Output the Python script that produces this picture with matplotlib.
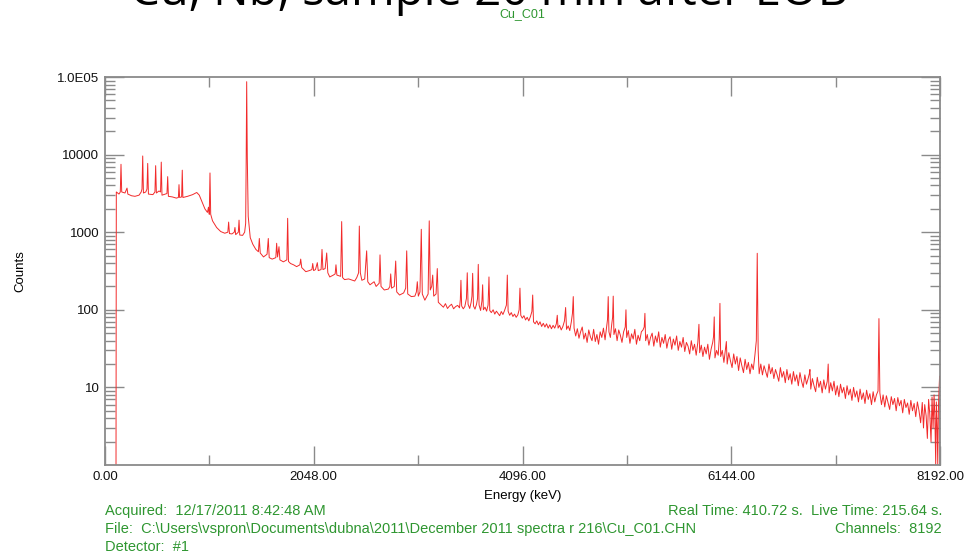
import numpy as np
import matplotlib
matplotlib.use("Agg")
import matplotlib.pyplot as plt
from matplotlib.ticker import FixedLocator, FixedFormatter, NullFormatter

# spectrum: energy (keV) and counts
# low part: flat shelf, the 1390 keV line
e_low = [108, 111, 137, 150, 157, 164, 196, 208, 216, 224, 260, 294, 334, 355, 363, 370, 377,
         400, 412, 419, 426, 470, 490, 497, 504, 530, 545, 552, 559, 590, 608, 615, 622, 660,
         700, 720, 726, 732, 752, 758, 764, 810, 860, 900, 925, 950, 980, 1005, 1015, 1023,
         1030, 1037, 1055, 1095, 1135, 1175, 1205, 1213, 1221, 1245, 1268, 1275, 1282, 1308,
         1315, 1322, 1350, 1370, 1380, 1385, 1390, 1396, 1405, 1425, 1450]
c_low = [1, 3300, 3100, 3300, 7500, 3300, 3200, 3500, 3700, 3100, 2950, 2900, 3000, 3300, 3600,
         9600, 3200, 3300, 3600, 7700, 3100, 3050, 3300, 7200, 3200, 3400, 3300, 8000, 3000,
         3100, 3150, 5200, 2900, 2850, 2750, 2800, 4100, 2800, 2850, 6300, 2800, 2900, 3050,
         3250, 3000, 2500, 2000, 1800, 2100, 1700, 5800, 1700, 1400, 1150, 1020, 970, 1000,
         1350, 960, 950, 1000, 1150, 930, 1000, 1430, 920, 910, 1000, 1300, 8000, 87000, 9000,
         1600, 850, 700]

# middle part: many lines on a falling continuum
e_mid = [1480, 1505, 1514, 1523, 1555, 1590, 1602, 1611, 1640, 1676, 1684, 1693, 1707, 1716,
         1750, 1784, 1792, 1800, 1820, 1850, 1880, 1912, 1920, 1930, 1970, 2005, 2030, 2038,
         2047, 2065, 2083, 2092, 2120, 2129, 2138, 2160, 2175, 2186, 2205, 2240, 2258, 2266,
         2275, 2312, 2322, 2331, 2350, 2390, 2430, 2450, 2470, 2488, 2495, 2505, 2520, 2548,
         2567, 2578, 2600, 2620, 2640, 2660, 2690, 2698, 2708, 2740, 2780, 2795, 2803, 2812,
         2838, 2852, 2862, 2890, 2930, 2950, 2960, 2970, 3005, 3040, 3055, 3064, 3074, 3090,
         3103, 3113, 3138, 3170, 3181, 3191, 3205, 3215, 3225, 3248, 3260, 3270, 3290]
c_mid = [600, 560, 830, 540, 480, 520, 830, 470, 450, 470, 720, 480, 650, 440, 415, 440, 1510,
         420, 395, 380, 360, 380, 450, 350, 310, 320, 330, 395, 320, 330, 405, 320, 330, 600,
         330, 340, 540, 300, 265, 280, 290, 380, 280, 270, 1370, 260, 245, 250, 240, 235, 260,
         300, 1200, 300, 240, 250, 575, 230, 210, 220, 230, 200, 220, 510, 200, 180, 185, 200,
         290, 190, 200, 425, 170, 155, 165, 190, 575, 160, 148, 150, 170, 230, 150, 170, 1090,
         160, 133, 160, 1400, 180, 200, 280, 150, 160, 340, 125, 118]

# noisy tail, (energy, counts) pairs
tail_a = [(3300, 115), (3320, 108), (3340, 120), (3360, 104), (3380, 112), (3400, 118),
          (3420, 103), (3440, 110), (3460, 114), (3478, 106), (3486, 135), (3492, 240),
          (3499, 112), (3515, 103), (3530, 110), (3546, 140), (3554, 300), (3562, 118),
          (3578, 104), (3592, 125), (3600, 150), (3607, 295), (3615, 112), (3630, 102),
          (3645, 118), (3655, 140), (3662, 385), (3670, 115), (3685, 98), (3698, 130),
          (3705, 210), (3712, 100), (3728, 108), (3744, 96), (3758, 115), (3767, 265),
          (3775, 98), (3790, 92), (3808, 100), (3824, 88), (3840, 96), (3856, 90), (3872, 84),
          (3888, 95), (3904, 87), (3920, 98), (3938, 115), (3947, 280), (3955, 96), (3970, 85),
          (3986, 92), (4002, 82), (4018, 88), (4034, 80), (4050, 86), (4063, 100), (4071, 190),
          (4079, 85), (4094, 78), (4110, 84), (4126, 74), (4142, 80), (4158, 72), (4174, 82),
          (4188, 95), (4196, 155), (4204, 70), (4220, 66), (4236, 72), (4252, 64), (4268, 70),
          (4284, 61), (4300, 67), (4316, 60), (4332, 66), (4348, 58), (4364, 64), (4380, 57),
          (4396, 63), (4412, 58), (4428, 66), (4437, 85), (4445, 58), (4460, 63), (4476, 55),
          (4492, 61), (4508, 72), (4519, 107), (4528, 56), (4544, 62), (4560, 54), (4575, 70),
          (4586, 90), (4594, 148), (4602, 58), (4618, 46), (4634, 57), (4650, 43), (4666, 52),
          (4682, 60), (4698, 42), (4714, 50), (4730, 38), (4746, 55), (4762, 45), (4778, 40),
          (4794, 56), (4810, 39), (4826, 48), (4842, 36), (4858, 52), (4874, 44), (4890, 58),
          (4906, 41), (4922, 62), (4930, 75), (4937, 148), (4944, 52), (4958, 44), (4972, 66),
          (4980, 80), (4986, 150), (4993, 48), (5008, 57), (5024, 40), (5040, 55), (5056, 47),
          (5072, 38), (5088, 52), (5104, 60), (5111, 100), (5118, 44), (5134, 54), (5150, 37),
          (5166, 49), (5182, 42), (5198, 56), (5214, 36), (5230, 47), (5246, 40), (5262, 52),
          (5278, 55), (5290, 60), (5297, 90), (5304, 40), (5320, 48), (5336, 35), (5352, 44),
          (5368, 50), (5384, 34), (5400, 46), (5416, 38), (5432, 52), (5448, 33), (5464, 44),
          (5480, 37), (5496, 48), (5512, 32), (5528, 41), (5544, 45), (5560, 31), (5576, 42),
          (5592, 35), (5608, 46), (5624, 30), (5640, 39), (5656, 33), (5672, 44), (5688, 29),
          (5704, 38), (5720, 34), (5736, 27), (5752, 40), (5768, 30), (5784, 36), (5800, 26),
          (5816, 38), (5827, 65), (5834, 28), (5850, 35), (5866, 25), (5882, 33), (5898, 27),
          (5914, 36), (5930, 23), (5946, 31), (5962, 38), (5970, 45), (5977, 81), (5984, 24)]
tail_b = [(6000, 30), (6016, 26), (6026, 42), (6033, 121), (6040, 25), (6056, 30), (6072, 21),
          (6088, 32), (6096, 39), (6104, 20), (6120, 28), (6136, 22), (6152, 18), (6168, 27),
          (6184, 20), (6200, 25), (6216, 16.5), (6232, 24), (6248, 19), (6264, 15.5), (6280, 23),
          (6296, 17), (6312, 21), (6328, 15), (6344, 20), (6360, 17), (6376, 26), (6390, 40),
          (6399, 535), (6408, 30), (6418, 15), (6434, 20), (6450, 14.5), (6466, 19), (6482, 16),
          (6498, 13.5), (6514, 20), (6530, 15), (6546, 18), (6562, 13), (6578, 17), (6594, 14.5),
          (6610, 12), (6626, 18), (6642, 13.5), (6658, 16), (6674, 11.5), (6690, 17),
          (6706, 12.5), (6722, 15), (6738, 11), (6754, 16), (6770, 12), (6786, 14.5),
          (6802, 10.5), (6818, 15.5), (6834, 12), (6850, 10), (6866, 14.5), (6882, 11),
          (6898, 13), (6910, 15), (6916, 17), (6924, 9.5), (6940, 13), (6956, 10.5), (6972, 8.8),
          (6988, 13.5), (7004, 10), (7020, 12), (7036, 8.5), (7052, 12.5), (7068, 9.5),
          (7086, 12), (7095, 20), (7104, 8.5), (7120, 11.5), (7136, 9), (7152, 12), (7168, 8),
          (7184, 10.5), (7200, 7.6), (7216, 11), (7232, 8.5), (7248, 10), (7264, 7.2),
          (7280, 10.5), (7296, 8), (7312, 9.5), (7328, 6.8), (7344, 10), (7360, 7.5), (7376, 9),
          (7392, 6.5), (7408, 9.5), (7424, 7), (7440, 8.5), (7456, 6.2), (7472, 9.2), (7488, 7),
          (7504, 8.3), (7520, 6), (7536, 8.8), (7552, 6.5), (7568, 8), (7584, 9), (7593, 77),
          (7602, 8.5), (7618, 6), (7634, 8), (7650, 5.6), (7666, 7.8), (7682, 6.4), (7698, 5.2),
          (7714, 7.6), (7730, 6), (7746, 7.2), (7762, 5), (7778, 7.4), (7794, 5.8), (7810, 6.8),
          (7826, 4.7), (7842, 7), (7858, 5.5), (7874, 6.3), (7890, 4.5), (7906, 6.8), (7922, 5),
          (7938, 6.2), (7954, 4.2), (7970, 6.5), (7986, 5), (8002, 3.5), (8018, 6.4), (8030, 3),
          (8042, 6), (8056, 4.3), (8068, 2.2), (8080, 7), (8092, 4.5), (8104, 2), (8114, 7.5),
          (8124, 3), (8134, 8), (8142, 4), (8150, 1), (8156, 6.5), (8164, 3), (8170, 1),
          (8176, 5), (8182, 9), (8188, 14), (8190, 13), (8192, 1)]

e_tail = [p[0] for p in tail_a + tail_b]
c_tail = [p[1] for p in tail_a + tail_b]
energy = np.array(e_low + e_mid + e_tail, dtype=float)
counts = np.array(c_low + c_mid + c_tail, dtype=float)

x_ticks = [0, 2048, 4096, 6144, 8192]
y_ticks = [10, 100, 1000, 10000, 100000]
y_labels = ['10', '100', '1000', '10000', '1.0E05']

title = 'Cu, Nb, sample 20 min after EOB'
spec_name = 'Cu_C01'
acquired = 'Acquired:  12/17/2011 8:42:48 AM'
file_line = 'File:  C:\\Users\\vspron\\Documents\\dubna\\2011\\December 2011 spectra r 216\\Cu_C01.CHN'
detector = 'Detector:  #1'
times = 'Real Time: 410.72 s.  Live Time: 215.64 s.'
channels = 'Channels:  8192'

green = '#2e9630'
axcol = '#8a8a8a'
font = ['Liberation Sans', 'DejaVu Sans']

fig = plt.figure(figsize=(9.69, 5.54), dpi=100)
ax = fig.add_axes([105/969, 1-465/554, 835/969, 388/554])

ax.plot(energy, counts, color='#f22a2a', lw=0.7)
ax.set_yscale('log')
ax.set_xlim(0, 8192)
ax.set_ylim(1, 1e5)

for s in ax.spines.values():
    s.set_color(axcol)
    s.set_linewidth(1.3)

ax.xaxis.set_major_locator(FixedLocator(x_ticks))
ax.xaxis.set_major_formatter(FixedFormatter(['%.2f' % v for v in x_ticks]))
ax.xaxis.set_minor_locator(FixedLocator([1024, 3072, 5120, 7168]))
ax.yaxis.set_major_locator(FixedLocator(y_ticks))
ax.yaxis.set_major_formatter(FixedFormatter(y_labels))
minors = [m * 10**d for d in range(0, 5) for m in range(2, 10)]
ax.yaxis.set_minor_locator(FixedLocator(minors))
ax.yaxis.set_minor_formatter(NullFormatter())

ax.tick_params(which='both', direction='in', top=True, right=True, color=axcol,
               width=1.0, labelsize=9.5, labelcolor='#111111')
ax.tick_params(which='major', length=14)
ax.tick_params(which='minor', length=7)
ax.tick_params(axis='y', which='major', pad=4)
ax.tick_params(axis='x', which='major', pad=4)
for lab in ax.get_xticklabels() + ax.get_yticklabels():
    lab.set_family(font)

ax.set_xlabel('Energy (keV)', fontsize=9.5, family=font, labelpad=5)
fig.text(20/969, 1 - 271/554, 'Counts', fontsize=9.5, family=font, rotation=90,
         ha='center', va='center')

fig.text(0.505, 1 - 5/554, title, fontsize=34, family=['Open Sans', 'DejaVu Sans'],
         ha='center', va='baseline', color='black')
fig.text(522/969, 1 - 14/554, spec_name, fontsize=9, family=font, color=green,
         ha='center', va='center')

fig.text(105/969, 1 - 511/554, acquired, fontsize=10.5, family=font, color=green, va='center')
fig.text(105/969, 1 - 529/554, file_line, fontsize=10.5, family=font, color=green, va='center')
fig.text(105/969, 1 - 547/554, detector, fontsize=10.5, family=font, color=green, va='center')
fig.text(942/969, 1 - 511/554, times, fontsize=10.5, family=font, color=green,
         ha='right', va='center')
fig.text(942/969, 1 - 529/554, channels, fontsize=10.5, family=font, color=green,
         ha='right', va='center')

fig.savefig('out.png', dpi=100)
